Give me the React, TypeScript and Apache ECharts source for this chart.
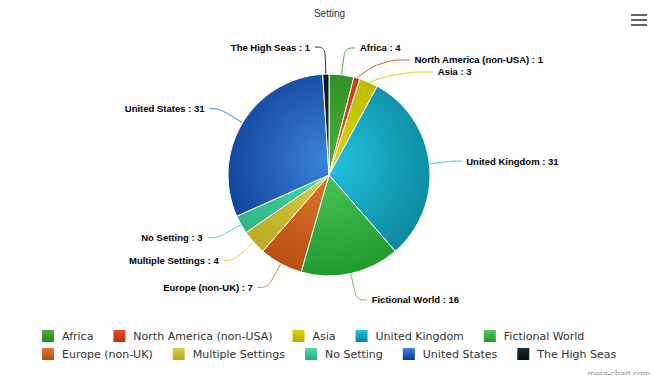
import React, { useEffect, useRef } from "react";
import * as echarts from "echarts";

const categories = [
  "Africa",
  "North America (non-USA)",
  "Asia",
  "United Kingdom",
  "Fictional World",
  "Europe (non-UK)",
  "Multiple Settings",
  "No Setting",
  "United States",
  "The High Seas",
];
const values = [4, 1, 3, 31, 16, 7, 4, 3, 31, 1];
const lightColors = ["#46ad36", "#e4502a", "#d6d400", "#22c2e0", "#4cca5a", "#e47a30", "#dccf48", "#48dcaa", "#3c84dc", "#1a2a34"];
const darkColors = ["#2a8420", "#c02e10", "#b2b000", "#0a8296", "#1c982a", "#b44c0e", "#b8a61e", "#2cae80", "#0a3a92", "#061016"];
const connectorLength2 = [10, 28, 32, 10, 10, 10, 10, 10, 10, 10];
const title = "Setting";
const credit = "meta-chart.com";

export default function App() {
  const ref = useRef<HTMLDivElement>(null);
  useEffect(() => {
    if (!ref.current) return;
    const chart = echarts.init(ref.current, null, { renderer: "svg" });
    const cx = 329;
    const cy = 175;
    const R = 101;
    const data = categories.map((name, i) => ({
      name,
      value: values[i],
      itemStyle: {
        color: {
          type: "radial",
          x: cx,
          y: cy - 15,
          r: 125,
          global: true,
          colorStops: [
            { offset: 0, color: lightColors[i] },
            { offset: 1, color: darkColors[i] },
          ],
        },
      },
      labelLine: { length2: connectorLength2[i], lineStyle: { color: lightColors[i] } },
    }));
    const legendData = categories.map((name, i) => ({
      name,
      itemStyle: {
        color: {
          type: "linear",
          x: 0,
          y: 0,
          x2: 0,
          y2: 1,
          colorStops: [
            { offset: 0, color: lightColors[i] },
            { offset: 1, color: darkColors[i] },
          ],
        },
        borderWidth: 0,
      },
    }));
    const legendBase = {
      left: 42,
      padding: 0,
      itemWidth: 12,
      itemHeight: 12,
      itemGap: 20,
      icon: "rect",
      textStyle: { fontFamily: "DejaVu Sans", fontSize: 11, color: "#333333", padding: [0, 0, 0, 3] },
      selectedMode: false,
    };
    chart.setOption({
      animation: false,
      backgroundColor: "#ffffff",
      title: [
        {
          text: title,
          left: "center",
          top: 8,
          padding: 0,
          textStyle: { fontFamily: "Liberation Sans", fontSize: 10, fontWeight: "normal", color: "#333333" },
        },
        {
          text: credit,
          right: 9,
          top: 369,
          padding: 0,
          textStyle: { fontFamily: "Liberation Sans", fontSize: 9, fontWeight: "normal", color: "#909090" },
        },
      ],
      legend: [
        { ...legendBase, data: legendData.slice(0, 5), top: 330 },
        { ...legendBase, data: legendData.slice(5), top: 348 },
      ],
      graphic: [
        { type: "rect", shape: { x: 631, y: 14, width: 16, height: 2 }, style: { fill: "#666666" } },
        { type: "rect", shape: { x: 631, y: 19, width: 16, height: 2 }, style: { fill: "#666666" } },
        { type: "rect", shape: { x: 631, y: 24, width: 16, height: 2 }, style: { fill: "#666666" } },
      ],
      series: [
        {
          type: "pie",
          center: [cx, cy],
          radius: R,
          startAngle: 90,
          clockwise: true,
          data,
          itemStyle: { borderColor: "#ffffff", borderWidth: 1 },
          label: {
            show: true,
            formatter: "{b} : {c}",
            fontFamily: "Liberation Sans",
            fontSize: 9.5,
            fontWeight: "bold",
            color: "#000000",
          },
          labelLine: { show: true, length: 27, length2: 10, smooth: 0.4, lineStyle: { width: 1 } },
          emphasis: { disabled: true },
        },
      ],
    });
    return () => chart.dispose();
  }, []);
  return <div ref={ref} style={{ width: 659, height: 383, margin: -8 }} />;
}
